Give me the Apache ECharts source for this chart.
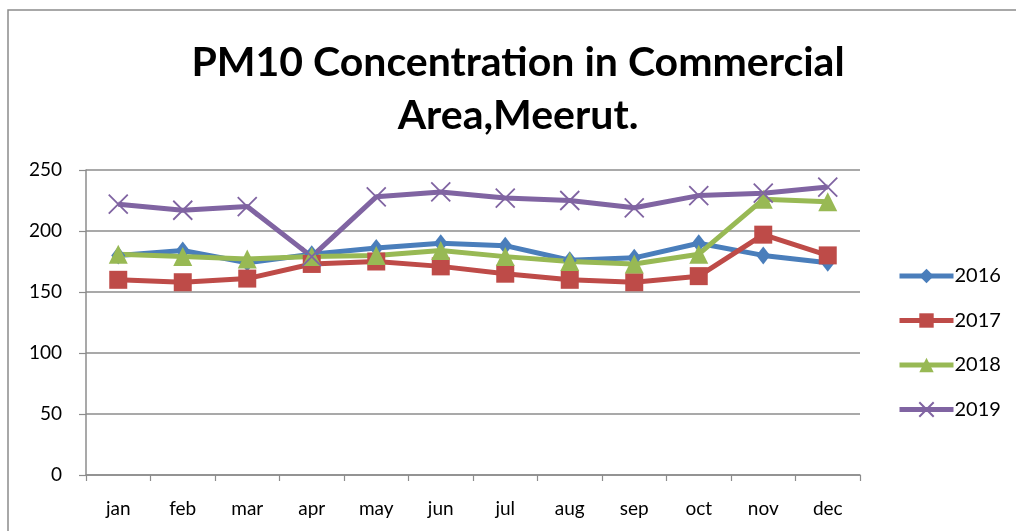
<!DOCTYPE html>
<html>
<head>
<meta charset="utf-8">
<script src="https://cdn.jsdelivr.net/npm/echarts@6/dist/echarts.min.js"></script>
<style>
  html, body { margin: 0; padding: 0; background: #fff; }
  #chart { width: 1016px; height: 531px; }
</style>
</head>
<body>
<div id="chart"></div>
<script>
// months on the x axis
const months = ['jan', 'feb', 'mar', 'apr', 'may', 'jun', 'jul', 'aug', 'sep', 'oct', 'nov', 'dec'];

// PM10 values
const y2016 = [180, 184, 174, 181, 186, 190, 188, 176, 178, 190, 180, 174];
const y2017 = [160, 158, 161, 173, 175, 171, 165, 160, 158, 163, 197, 180];
const y2018 = [181, 179, 177, 179, 180, 184, 179, 175, 173, 181, 226, 224];
const y2019 = [222, 217, 220, 179, 228, 232, 227, 225, 219, 229, 231, 236];

const font = 'Lato, "Open Sans", sans-serif';

var chart = echarts.init(document.getElementById('chart'));

function lineSeries(name, data, color, symbol, size) {
  return {
    name: name,
    type: 'line',
    data: data,
    symbol: symbol,
    symbolSize: size,
    showAllSymbol: true,
    lineStyle: { color: color, width: 5 },
    itemStyle: { color: color, borderColor: color, borderWidth: 0 },
    emphasis: { disabled: true }
  };
}

var xSeries = lineSeries('2019', y2019, '#8064a2', 'path://M0,0L10,10M0,10L10,0', 19);
xSeries.itemStyle.borderWidth = 1.8;

chart.setOption({
  animation: false,
  title: {
    text: 'PM10 Concentration in Commercial\nArea,Meerut.',
    left: 513,
    textAlign: 'center',
    top: 31,
    textStyle: {
      fontFamily: font,
      fontWeight: 'bold',
      fontSize: 41,
      lineHeight: 53,
      color: '#000'
    }
  },
  legend: {
    orient: 'vertical',
    left: 892,
    top: 261,
    itemWidth: 54,
    itemHeight: 18,
    itemGap: 24.5,
    lineStyle: { width: 5 },
    textStyle: { fontFamily: font, fontSize: 20, color: '#000', padding: [0, 0, 0, -4] },
    data: ['2016', '2017', '2018', '2019']
  },
  graphic: [{
    type: 'rect',
    shape: { x: 8, y: 10, width: 1100, height: 600 },
    style: { fill: 'none', stroke: '#8c8c8c', lineWidth: 1.5 },
    silent: true
  }],
  grid: { left: 86, top: 170, width: 774, height: 305 },
  xAxis: {
    type: 'category',
    data: months,
    boundaryGap: true,
    axisLine: { lineStyle: { color: '#8c8c8c', width: 1.5 } },
    axisTick: { show: true, interval: 0, length: 6, lineStyle: { color: '#8c8c8c', width: 1.2 } },
    axisLabel: { interval: 0, margin: 24, fontFamily: font, fontSize: 19, color: '#000' }
  },
  yAxis: {
    type: 'value',
    min: 0,
    max: 250,
    interval: 50,
    axisLine: { show: true, lineStyle: { color: '#8c8c8c', width: 1.5 } },
    axisTick: { show: true, length: 7, lineStyle: { color: '#8c8c8c', width: 1.2 } },
    axisLabel: { margin: 24, fontFamily: font, fontSize: 19, color: '#000' },
    splitLine: { lineStyle: { color: '#8c8c8c', width: 1.5 } }
  },
  series: [
    lineSeries('2016', y2016, '#4a7ebb', 'diamond', [14, 18]),
    lineSeries('2017', y2017, '#be4b48', 'rect', 18),
    lineSeries('2018', y2018, '#98b954', 'triangle', 19),
    xSeries
  ]
});
</script>
</body>
</html>
